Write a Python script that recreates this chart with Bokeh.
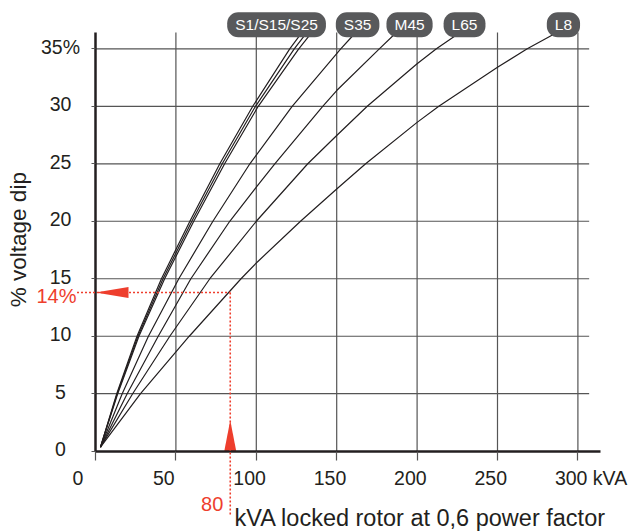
import math
from bokeh.plotting import figure
from bokeh.models import Range1d, FixedTicker, ColumnDataSource, LabelSet, Label, Arrow
from bokeh.core.properties import value
from bokeh.embed import file_html
from bokeh.resources import INLINE

# ---------------- data ----------------
x_ticks = [0, 50, 100, 150, 200, 250, 300]
x_tick_labels = ["0", "50", "100", "150", "200", "250", "300 kVA"]
y_ticks = [0, 5, 10, 15, 20, 25, 30, 35]
y_tick_labels = ["0", "5", "10", "15", "20", "25", "30", "35%"]

# curves: kVA locked rotor at each % voltage dip (read at grid crossings)
s1_pct = [0.35, 5, 10, 15, 20, 25, 30, 35, 36.46]
s1_kva = [3.1, 13.2, 25.8, 41.0, 58.7, 77.3, 97.8, 120.8, 128.5]
s15_pct = [0.35, 5, 10, 15, 20, 25, 30, 35, 36.46]
s15_kva = [3.1, 13.5, 26.4, 42.0, 59.9, 78.8, 99.5, 123.6, 131.6]
s25_pct = [0.35, 5, 10, 15, 20, 25, 30, 35, 36.46]
s25_kva = [3.1, 13.8, 27.0, 43.0, 61.1, 80.3, 101.2, 126.4, 134.7]
s35_pct = [0.35, 5, 10, 15, 20, 25, 30, 35, 36.2]
s35_kva = [3.1, 16.6, 32.9, 51.8, 73.0, 96.0, 122.3, 152.5, 160.4]
m45_pct = [0.35, 5, 10, 15, 20, 22.96, 25, 30, 31.37, 35, 36.35]
m45_kva = [3.1, 19.7, 39.0, 59.3, 83.5, 100.0, 111.5, 141.3, 150.0, 176.5, 186.6]
l65_pct = [0.35, 5, 10, 15, 20, 25, 27.46, 30, 33.7, 35, 36.16]
l65_kva = [3.1, 23.1, 46.2, 71.1, 100.0, 132.0, 150.0, 169.0, 200.0, 212.0, 224.0]
l8_pct = [0.35, 5, 10, 15, 16.44, 20, 22.8, 25, 28.6, 30, 33.4, 35, 36.26]
l8_kva = [3.1, 28.0, 58.3, 90.5, 100.5, 127.5, 150.0, 168.0, 200.0, 213.5, 250.0, 268.5, 285.0]

pill_names = ["S1/S15/S25", "S35", "M45", "L65", "L8"]
pill_kva = [112.6, 163.0, 195.3, 229.5, 291.0]
pill_pct = 37.09

marker_kva = 83.8      # where the red guide meets the L8 curve
marker_pct = 13.8
marker_kva_label = "80"
marker_pct_label = "14%"

x_title = "kVA locked rotor at 0,6 power factor"
y_title = "% voltage dip"

# ---------------- styling ----------------
FONT = "Liberation Sans"
INK = "#231f20"
GRID = "#555555"
RED = "#ee3e2d"
PILL = "#58595b"

W, H = 629, 531
X0_PX, Y0_PX = 95.0, 450.7          # page position of the origin
sx, sy = 1.608, 11.497             # px per kVA, px per %
X_END, Y_END = 314, 36.42          # extent of the axes

p = figure(width=W, height=H, output_backend="svg", toolbar_location=None,
           x_range=Range1d(-X0_PX / sx, (W - X0_PX) / sx),
           y_range=Range1d(-(H - Y0_PX) / sy, Y0_PX / sy),
           min_border=0)
p.title.visible = False
p.outline_line_color = None
p.background_fill_color = "white"
p.border_fill_color = "white"

p.xaxis.fixed_location = 0
p.yaxis.fixed_location = 0
p.xaxis.bounds = (0, X_END)
p.yaxis.bounds = (0, Y_END)
p.xaxis.ticker = FixedTicker(ticks=x_ticks)
p.yaxis.ticker = FixedTicker(ticks=y_ticks)
p.xaxis.major_label_overrides = {t: "" for t in x_ticks}
p.yaxis.major_label_overrides = {t: "" for t in y_ticks}
for ax in (p.xaxis, p.yaxis):
    ax.axis_line_width = 2.5
    ax.axis_line_color = INK
    ax.major_tick_line_color = GRID
    ax.major_tick_line_width = 1.2
    ax.major_tick_in = 0
    ax.minor_tick_line_color = None
p.xaxis.major_tick_out = 9
p.yaxis.major_tick_out = 4

p.xgrid.grid_line_color = None
p.ygrid.grid_line_color = None
grid_x = x_ticks[1:]
grid_y = y_ticks[1:]
p.segment(x0=grid_x, y0=[0] * len(grid_x), x1=grid_x, y1=[Y_END] * len(grid_x),
          line_color=GRID, line_width=1.2)
p.segment(x0=[0] * len(grid_y), y0=grid_y, x1=[307] * len(grid_y), y1=grid_y,
          line_color=GRID, line_width=1.2)

for kva, pct in [(s1_kva, s1_pct), (s15_kva, s15_pct), (s25_kva, s25_pct),
                 (s35_kva, s35_pct), (m45_kva, m45_pct), (l65_kva, l65_pct), (l8_kva, l8_pct)]:
    p.line(kva, pct, line_color=INK, line_width=1.2, line_join="round")

# red guides
p.add_layout(Arrow(end=None, x_start=-18.5 / sx, y_start=marker_pct, x_end=marker_kva, y_end=marker_pct,
                   line_color=RED, line_width=1.6, line_dash="2 2"))
p.add_layout(Arrow(end=None, x_start=marker_kva, y_start=marker_pct, x_end=marker_kva, y_end=-64 / sy,
                   line_color=RED, line_width=1.6, line_dash="2 2"))
p.patch([0, 33 / sx, 33 / sx], [marker_pct, marker_pct + 5.5 / sy, marker_pct - 5.5 / sy],
        fill_color=RED, line_color=None)
p.patch([marker_kva - 6 / sx, marker_kva, marker_kva + 6 / sx], [0, 31 / sy, 0],
        fill_color=RED, line_color=None)

p.add_layout(Label(x=0, y=marker_pct, text=marker_pct_label, text_align="right", text_baseline="middle",
                   x_offset=-19, y_offset=-3, text_color=RED, text_font=FONT, text_font_size="20px"))
p.add_layout(Label(x=marker_kva, y=0, text=marker_kva_label, text_align="right", text_baseline="middle",
                   x_offset=-7, y_offset=-53, text_color=RED, text_font=FONT, text_font_size="20px"))

# tick labels
xl = ColumnDataSource(dict(x=x_ticks, y=[0] * len(x_ticks), text=x_tick_labels))
p.add_layout(LabelSet(x="x", y="y", text="text", source=xl, x_offset=-23, y_offset=-27,
                      text_align="left", text_baseline="middle", text_color=INK,
                      text_font=value(FONT), text_font_size=value("19.5px")))
yl = ColumnDataSource(dict(x=[0] * len(y_ticks), y=y_ticks, text=y_tick_labels))
p.add_layout(LabelSet(x="x", y="y", text="text", source=yl, x_offset=-35, y_offset=2,
                      text_align="center", text_baseline="middle", text_color=INK,
                      text_font=value(FONT), text_font_size=value("19.5px")))

# axis titles
p.add_layout(Label(x=0, y=0, x_offset=139, y_offset=-67, text=x_title, text_align="left",
                   text_baseline="middle", text_color=INK, text_font=FONT, text_font_size="23.5px"))
p.add_layout(Label(x=0, y=18.4, x_offset=-77, text=y_title, angle=math.pi / 2, text_align="center",
                   text_baseline="middle", text_color=INK, text_font=FONT, text_font_size="22.5px"))

# series name pills
for name, kx in zip(pill_names, pill_kva):
    p.add_layout(Label(x=kx, y=pill_pct, text=name, text_align="center", text_baseline="middle",
                       text_color="white", text_font=FONT, text_font_size="15.5px",
                       background_fill_color=PILL, border_radius=11,
                       padding=dict(left=8, right=8, top=4, bottom=4)))

open("out.html", "w").write(file_html(p, INLINE))
